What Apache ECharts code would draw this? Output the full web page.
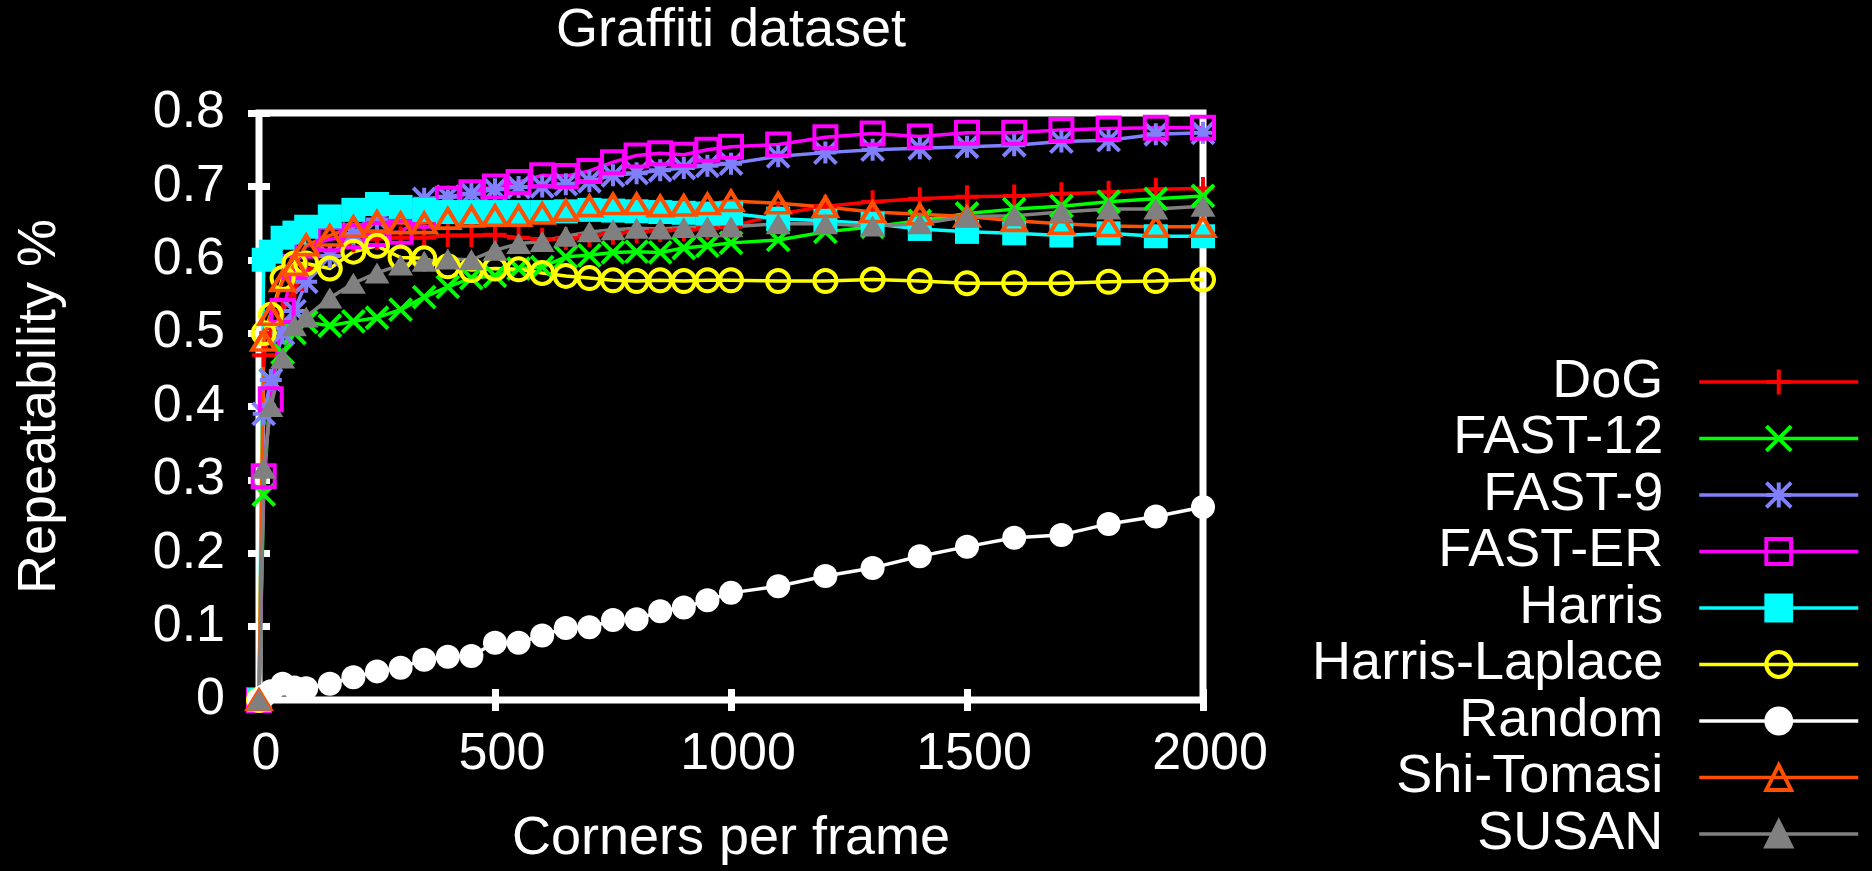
<!DOCTYPE html>
<html>
<head>
<meta charset="utf-8">
<title>Graffiti dataset</title>
<script src="https://cdn.jsdelivr.net/npm/echarts@6/dist/echarts.min.js"></script>
<style>
  html, body { margin: 0; padding: 0; background: #000; }
  #chart { width: 1872px; height: 871px; }
</style>
</head>
<body>
<div id="chart"></div>
<script>
// Number of corners detected per frame (x positions of every curve)
const corners = [0, 10, 25, 50, 75, 100, 150, 200, 250, 300, 350, 400, 450, 500, 550, 600, 650, 700,
  750, 800, 850, 900, 950, 1000, 1100, 1200, 1300, 1400, 1500, 1600, 1700, 1800, 1900, 2000];

// Repeatability of each detector at those corner counts
const dog = [0, 0.47, 0.50, 0.53, 0.56, 0.585, 0.605, 0.626, 0.629, 0.630, 0.630, 0.633, 0.633, 0.634,
  0.630, 0.628, 0.629, 0.633, 0.636, 0.638, 0.640, 0.641, 0.643, 0.645,
  0.662, 0.673, 0.679, 0.683, 0.686, 0.687, 0.690, 0.692, 0.696, 0.697];
const fast12 = [0, 0.28, 0.436, 0.473, 0.50, 0.515, 0.51, 0.516, 0.521, 0.532, 0.549, 0.563, 0.575, 0.578,
  0.588, 0.590, 0.604, 0.606, 0.610, 0.611, 0.610, 0.616, 0.619, 0.623,
  0.627, 0.638, 0.645, 0.653, 0.663, 0.669, 0.673, 0.679, 0.683, 0.687];
const fast9 = [0, 0.39, 0.436, 0.50, 0.53, 0.57, 0.605, 0.635, 0.655, 0.67, 0.683, 0.686, 0.690, 0.696,
  0.699, 0.700, 0.703, 0.707, 0.715, 0.718, 0.722, 0.725, 0.728, 0.731,
  0.741, 0.746, 0.750, 0.752, 0.754, 0.756, 0.761, 0.763, 0.771, 0.773];
const fastER = [0, 0.305, 0.41, 0.53, 0.59, 0.619, 0.628, 0.632, 0.635, 0.638, 0.66, 0.683, 0.692, 0.700,
  0.706, 0.715, 0.714, 0.721, 0.733, 0.742, 0.745, 0.743, 0.750, 0.754,
  0.757, 0.767, 0.772, 0.768, 0.773, 0.773, 0.777, 0.779, 0.780, 0.780];
const harris = [0, 0.60, 0.611, 0.63, 0.637, 0.645, 0.659, 0.668, 0.676, 0.672, 0.668, 0.665, 0.665, 0.665,
  0.665, 0.665, 0.666, 0.668, 0.667, 0.666, 0.665, 0.664, 0.663, 0.663,
  0.656, 0.653, 0.649, 0.642, 0.638, 0.636, 0.633, 0.636, 0.632, 0.632];
const harrisLaplace = [0, 0.50, 0.525, 0.575, 0.595, 0.595, 0.588, 0.611, 0.619, 0.603, 0.602, 0.591, 0.586, 0.588,
  0.587, 0.582, 0.578, 0.575, 0.572, 0.571, 0.572, 0.571, 0.572, 0.572,
  0.571, 0.571, 0.573, 0.571, 0.568, 0.568, 0.568, 0.570, 0.571, 0.573];
const random = [0, 0.005, 0.012, 0.022, 0.017, 0.016, 0.022, 0.031, 0.039, 0.044, 0.055, 0.059, 0.060, 0.078,
  0.078, 0.088, 0.098, 0.099, 0.109, 0.110, 0.121, 0.126, 0.136, 0.146,
  0.155, 0.169, 0.180, 0.196, 0.209, 0.221, 0.225, 0.240, 0.250, 0.263];
const shiTomasi = [0, 0.49, 0.525, 0.571, 0.593, 0.62, 0.633, 0.645, 0.652, 0.650, 0.650, 0.656, 0.659, 0.660,
  0.660, 0.663, 0.667, 0.673, 0.676, 0.676, 0.673, 0.674, 0.676, 0.680,
  0.677, 0.672, 0.665, 0.662, 0.659, 0.653, 0.649, 0.646, 0.645, 0.645];
const susan = [0, 0.316, 0.40, 0.466, 0.51, 0.522, 0.548, 0.568, 0.582, 0.593, 0.598, 0.601, 0.600, 0.613,
  0.622, 0.625, 0.632, 0.638, 0.641, 0.643, 0.642, 0.644, 0.645, 0.645,
  0.649, 0.649, 0.646, 0.649, 0.659, 0.660, 0.665, 0.669, 0.669, 0.673];

// Axis ticks
const xTicks = { min: 0, max: 2000, step: 500 };
const yTicks = { min: 0, max: 0.8, step: 0.1 };

// Point glyphs in the style of gnuplot
const PLUS = 'path://M0,5L10,5M5,0L5,10';
const CROSS = 'path://M0,0L10,10M0,10L10,0';
const STAR = 'path://M0,5L10,5M5,0L5,10M0,0L10,10M0,10L10,0';

const FONT = '"Liberation Sans", Arial, Helvetica, sans-serif';

const detectors = [
  { name: 'DoG',            values: dog,           color: '#ff0000', symbol: PLUS,       size: 23,       filled: false },
  { name: 'FAST-12',        values: fast12,        color: '#00ff00', symbol: CROSS,      size: 22,       filled: false },
  { name: 'FAST-9',         values: fast9,         color: '#8080ff', symbol: STAR,       size: 22,       filled: false },
  { name: 'FAST-ER',        values: fastER,        color: '#ff00ff', symbol: 'rect',     size: 22,       filled: false },
  { name: 'Harris',         values: harris,        color: '#00ffff', symbol: 'rect',     size: 24,       filled: true },
  { name: 'Harris-Laplace', values: harrisLaplace, color: '#ffff00', symbol: 'circle',   size: 22,       filled: false },
  { name: 'Random',         values: random,        color: '#ffffff', symbol: 'circle',   size: 24,       filled: true },
  { name: 'Shi-Tomasi',     values: shiTomasi,     color: '#ff4f00', symbol: 'triangle', size: [23, 19], filled: false },
  { name: 'SUSAN',          values: susan,         color: '#808080', symbol: 'triangle', size: [25, 21], filled: true }
];

const tickStyle = { inside: true, length: 11, lineStyle: { color: '#fff', width: 7 } };

function valueAxis(range, extra) {
  return Object.assign({
    type: 'value',
    min: range.min,
    max: range.max,
    interval: range.step,
    axisLine: { show: false },
    splitLine: { show: false },
    axisTick: tickStyle
  }, extra);
}

const chart = echarts.init(document.getElementById('chart'), null, { renderer: 'canvas' });

chart.setOption({
  backgroundColor: '#000',
  animation: false,
  title: {
    text: 'Graffiti dataset',
    left: 731,
    top: 4,
    padding: 0,
    textAlign: 'center',
    textStyle: { color: '#fff', fontSize: 54, fontWeight: 'normal', fontFamily: FONT }
  },
  grid: {
    left: 259, right: 669, top: 113, bottom: 165,
    show: true,
    borderColor: '#fff',
    borderWidth: 7,
    backgroundColor: 'transparent'
  },
  xAxis: [
    valueAxis(xTicks, {
      position: 'bottom',
      axisLabel: {
        color: '#fff', fontSize: 52, fontFamily: FONT, margin: 29,
        padding: [0, 0, 0, 14],
        formatter: v => String(v)
      },
      name: 'Corners per frame',
      nameLocation: 'middle',
      nameGap: 112,
      nameTextStyle: { color: '#fff', fontSize: 54, fontFamily: FONT }
    }),
    valueAxis(xTicks, { position: 'top', axisLabel: { show: false } })
  ],
  yAxis: [
    valueAxis(yTicks, {
      position: 'left',
      axisLabel: { color: '#fff', fontSize: 52, fontFamily: FONT, margin: 34 },
      name: 'Repeatability %',
      nameLocation: 'middle',
      nameRotate: 90,
      nameGap: 192,
      nameTextStyle: { color: '#fff', fontSize: 54, fontFamily: FONT }
    }),
    valueAxis(yTicks, { position: 'right', axisLabel: { show: false } })
  ],
  legend: {
    data: detectors.map(d => d.name),
    orient: 'vertical',
    align: 'right',
    right: 12,
    top: 355,
    padding: 0,
    itemGap: 2.5,
    itemWidth: 159,
    itemHeight: 31,
    selectedMode: false,
    lineStyle: { width: 3.5 },
    itemStyle: { borderWidth: 4 },
    textStyle: { color: '#fff', fontSize: 54, fontFamily: FONT, padding: [0, 31, 0, 0] }
  },
  series: detectors.map(d => ({
    name: d.name,
    type: 'line',
    xAxisIndex: 0,
    yAxisIndex: 0,
    data: corners.map((c, i) => [c, d.values[i]]),
    symbol: d.symbol,
    symbolSize: d.size,
    showAllSymbol: true,
    lineStyle: { color: d.color, width: 3.5 },
    itemStyle: d.filled
      ? { color: d.color, borderColor: d.color, borderWidth: 0 }
      : { color: 'rgba(0,0,0,0)', borderColor: d.color, borderWidth: 4 },
    emphasis: { disabled: true }
  }))
});
</script>
</body>
</html>
